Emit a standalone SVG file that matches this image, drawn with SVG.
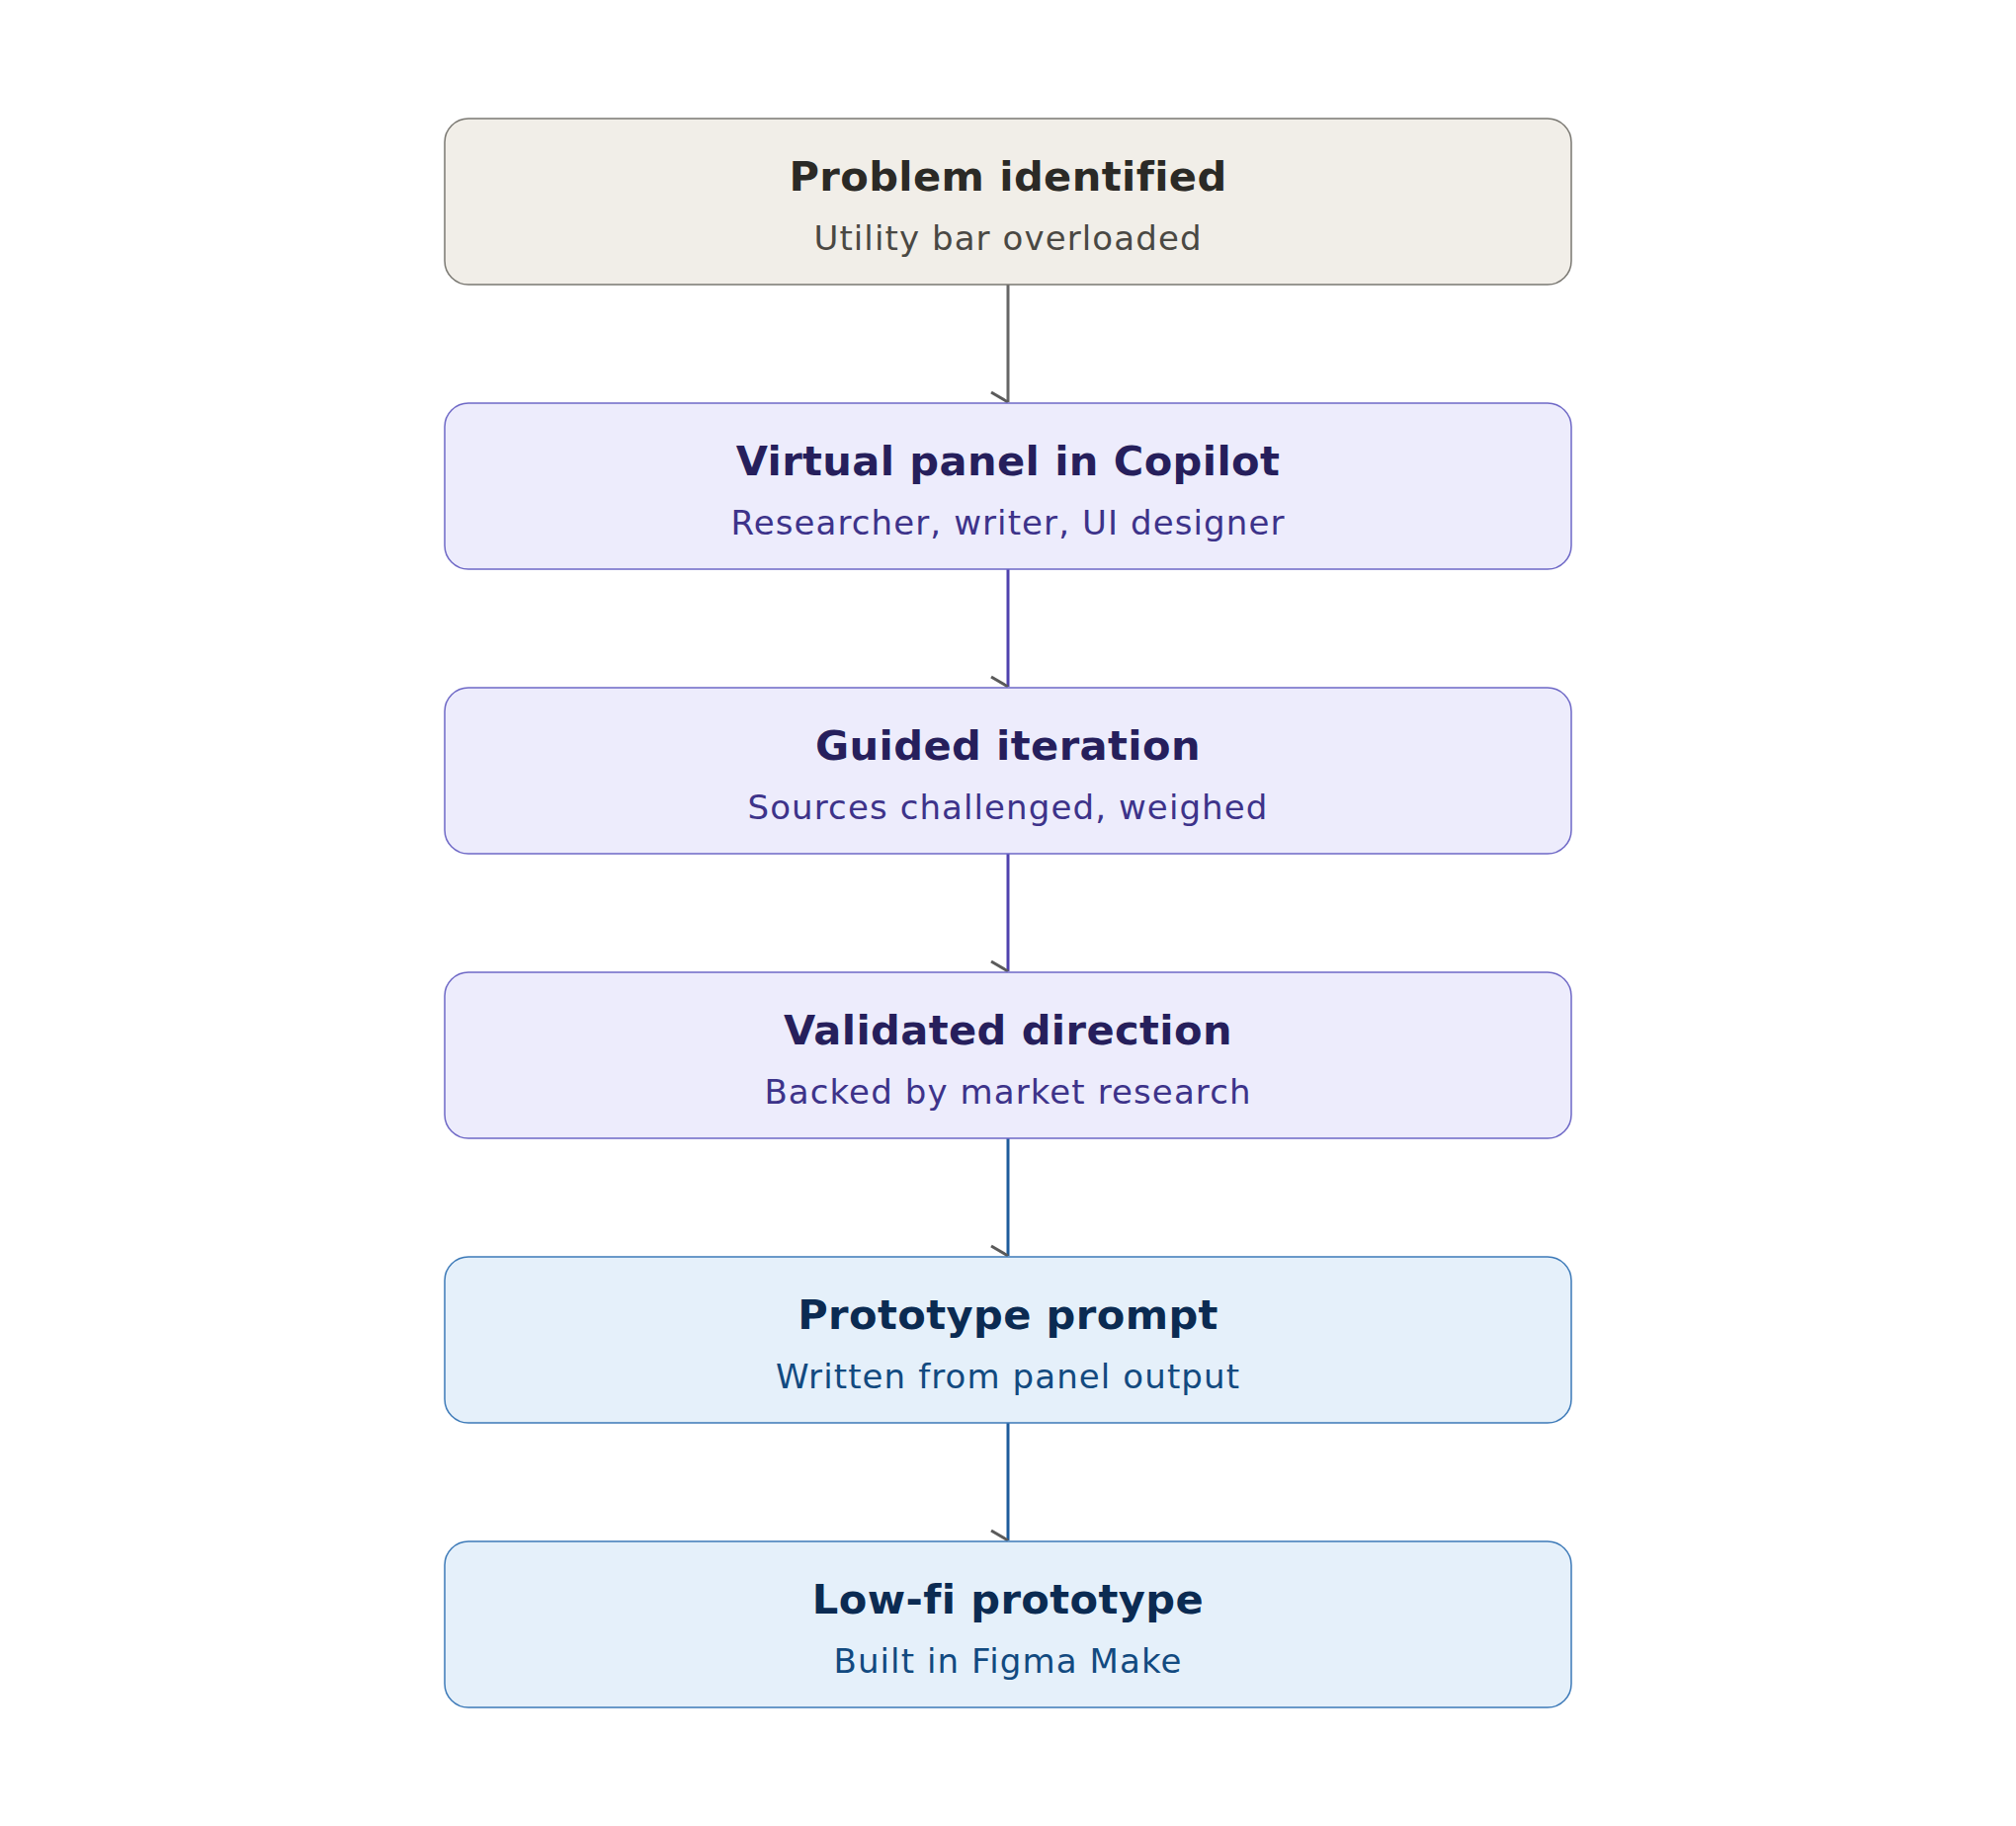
<svg xmlns="http://www.w3.org/2000/svg" width="2040" height="1848" viewBox="0 0 2040 1848">
<style>
.t{font-family:"DejaVu Sans","Liberation Sans",sans-serif;font-weight:bold;font-size:41.6px;letter-spacing:0.4px;text-anchor:middle}
.s{font-family:"DejaVu Sans","Liberation Sans",sans-serif;font-size:34px;letter-spacing:1.1px;text-anchor:middle}
.box{stroke-width:1.5}
.gray .box{fill:#f1eee8;stroke:#7a7872}
.gray .t{fill:#2b2a26}.gray .s{fill:#4a4843}
.purple .box{fill:#edecfc;stroke:#6e68c6}
.purple .t{fill:#261f5c}.purple .s{fill:#3d338a}
.blue .box{fill:#e5f0fa;stroke:#3d7ab8}
.blue .t{fill:#0b2b52}.blue .s{fill:#124a80}
.edge{fill:none;stroke-width:3}
.head{fill:none;stroke:#5a5a5a;stroke-width:3}
</style>
<rect width="2040" height="1848" fill="#ffffff"/>
<g id="connectors">
<line class="edge" x1="1020" y1="288" x2="1020" y2="407" stroke="#666666"/>
<line class="head" x1="1003" y1="397" x2="1020" y2="407"/>
<line class="edge" x1="1020" y1="576" x2="1020" y2="695" stroke="#4f42ae"/>
<line class="head" x1="1003" y1="685" x2="1020" y2="695"/>
<line class="edge" x1="1020" y1="864" x2="1020" y2="983" stroke="#4f42ae"/>
<line class="head" x1="1003" y1="973" x2="1020" y2="983"/>
<line class="edge" x1="1020" y1="1152" x2="1020" y2="1271" stroke="#1e5c9c"/>
<line class="head" x1="1003" y1="1261" x2="1020" y2="1271"/>
<line class="edge" x1="1020" y1="1440" x2="1020" y2="1559" stroke="#1e5c9c"/>
<line class="head" x1="1003" y1="1549" x2="1020" y2="1559"/>
</g>
<g id="node1" class="gray">
<rect class="box" x="450" y="120" width="1140" height="168" rx="24"/>
<text class="t" x="1020" y="193">Problem identified</text>
<text class="s" x="1020" y="253">Utility bar overloaded</text>
</g>
<g id="node2" class="purple">
<rect class="box" x="450" y="408" width="1140" height="168" rx="24"/>
<text class="t" x="1020" y="481">Virtual panel in Copilot</text>
<text class="s" x="1020" y="541">Researcher, writer, UI designer</text>
</g>
<g id="node3" class="purple">
<rect class="box" x="450" y="696" width="1140" height="168" rx="24"/>
<text class="t" x="1020" y="769">Guided iteration</text>
<text class="s" x="1020" y="829">Sources challenged, weighed</text>
</g>
<g id="node4" class="purple">
<rect class="box" x="450" y="984" width="1140" height="168" rx="24"/>
<text class="t" x="1020" y="1057">Validated direction</text>
<text class="s" x="1020" y="1117">Backed by market research</text>
</g>
<g id="node5" class="blue">
<rect class="box" x="450" y="1272" width="1140" height="168" rx="24"/>
<text class="t" x="1020" y="1345">Prototype prompt</text>
<text class="s" x="1020" y="1405">Written from panel output</text>
</g>
<g id="node6" class="blue">
<rect class="box" x="450" y="1560" width="1140" height="168" rx="24"/>
<text class="t" x="1020" y="1633">Low-fi prototype</text>
<text class="s" x="1020" y="1693">Built in Figma Make</text>
</g>
</svg>
